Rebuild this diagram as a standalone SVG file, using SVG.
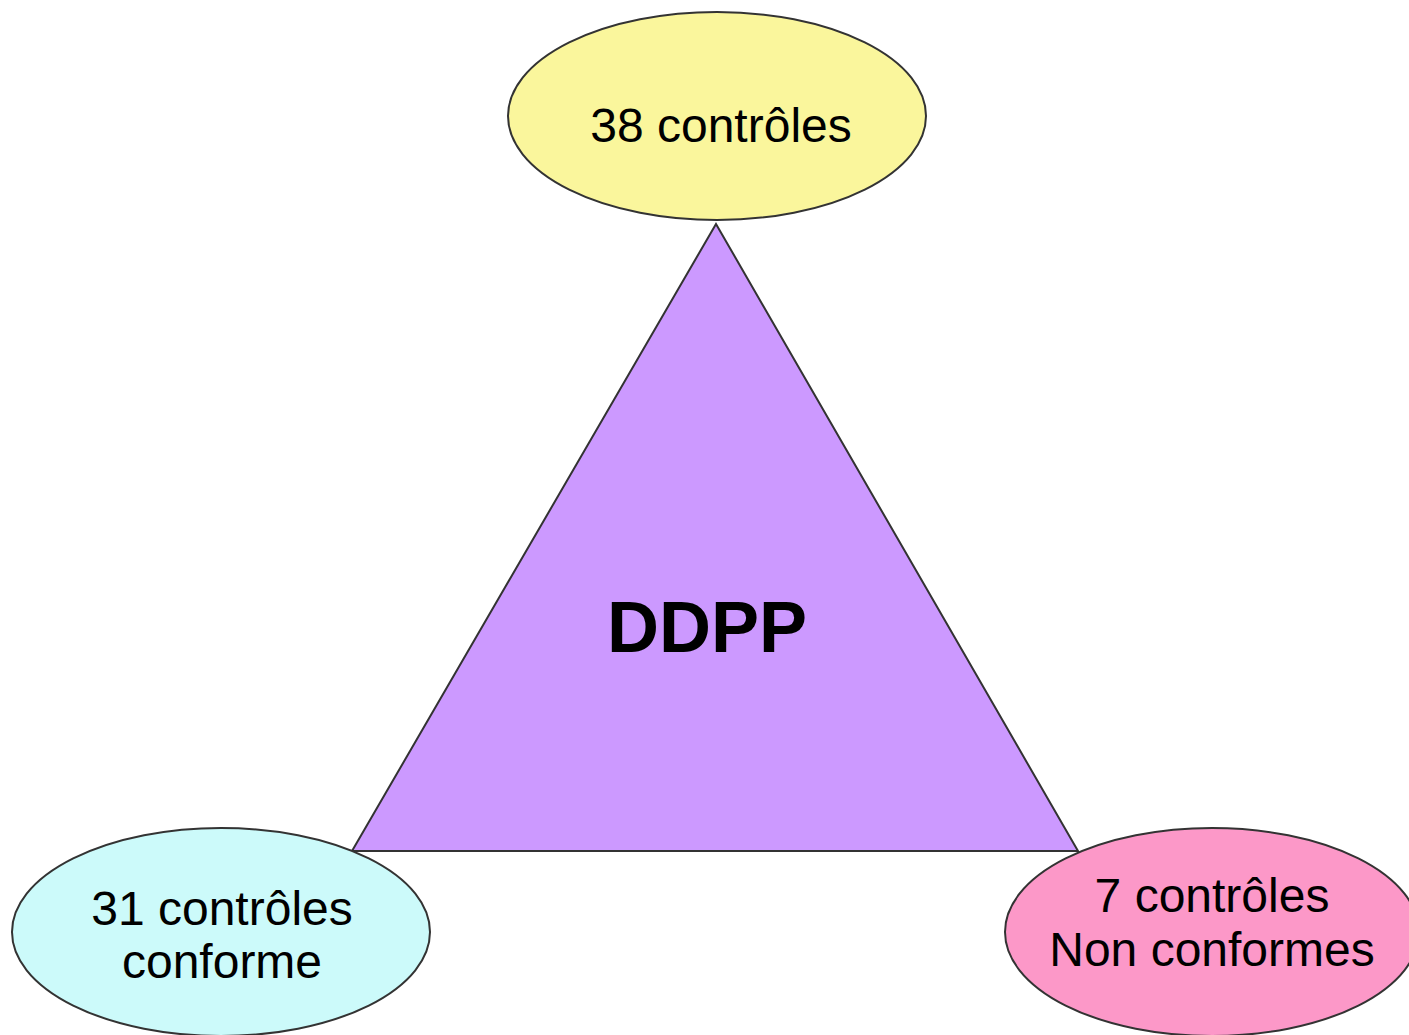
<svg xmlns="http://www.w3.org/2000/svg" width="1409" height="1035" viewBox="0 0 1409 1035">
<style>
.n{stroke:#333;stroke-width:2}
.t{font-family:"Liberation Sans",Arial,sans-serif;font-size:48px;fill:#000;text-anchor:middle}
.b{font-family:"Liberation Sans",Arial,sans-serif;font-size:72px;font-weight:bold;fill:#000;text-anchor:middle}
</style>
<rect width="1409" height="1035" fill="#fff"/>
<g id="triangle">
<polygon class="n" points="716,224 352,851 1078,851" fill="#cc99ff" stroke-width="1.5"/>
<text class="b" x="707" y="652">DDPP</text>
</g>
<g id="top">
<ellipse class="n" cx="717" cy="116" rx="209" ry="104" fill="#faf69c"/>
<text class="t" x="721" y="142">38 contrôles</text>
</g>
<g id="left">
<ellipse class="n" cx="221" cy="932" rx="209" ry="104" fill="#ccfafa"/>
<text class="t" x="222" y="925">31 contrôles</text>
<text class="t" x="222" y="978">conforme</text>
</g>
<g id="right">
<ellipse class="n" cx="1212" cy="932" rx="207" ry="104" fill="#fc98c8"/>
<text class="t" x="1212" y="912">7 contrôles</text>
<text class="t" x="1212" y="966">Non conformes</text>
</g>
<g id="connectors"></g>
</svg>
